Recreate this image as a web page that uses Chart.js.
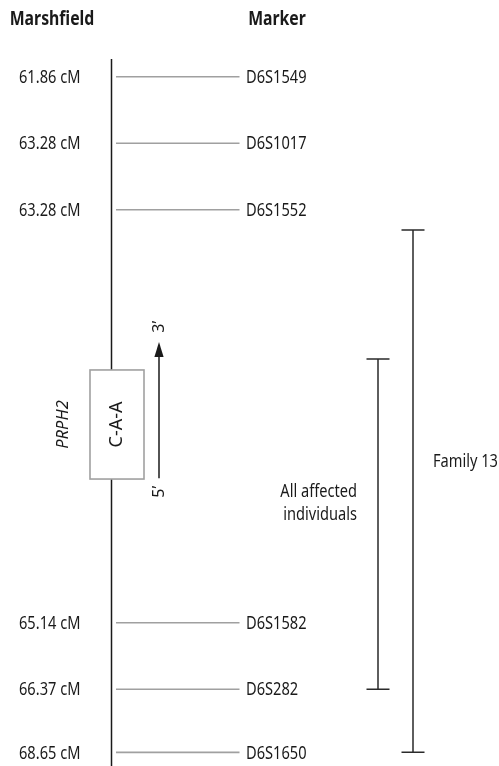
<!DOCTYPE html>
<html>
<head>
<meta charset="utf-8">
<script src="https://cdn.jsdelivr.net/npm/chart.js@4.4.1/dist/chart.umd.min.js"></script>
<style>
  html, body { margin: 0; padding: 0; background: #fff; }
  #wrap { width: 499px; height: 766px; position: relative; }
</style>
</head>
<body>
<div id="wrap"><canvas id="mapChart"></canvas></div>
<script>
// Linkage map around PRPH2 - markers sit on "rows" of the y scale
const markerNames = ["D6S1549", "D6S1017", "D6S1552", "D6S1582", "D6S282", "D6S1650"];
const markerCM = ["61.86 cM", "63.28 cM", "63.28 cM", "65.14 cM", "66.37 cM", "68.65 cM"];
const markerRows = [0, 1, 2, 8.21, 9.21, 10.16];

const geneName = "PRPH2";
const geneAllele = "C-A-A";
const geneRows = [4.41, 6.05];      // top / bottom of the haplotype box
const strandRows = [6.04, 3.99];    // 5' end, 3' tip
const strandEnds = ["5\u2019", "3\u2019"];

const bracketLabels = [["All affected", "individuals"], ["Family 13"]];
const bracketRows = [[4.245, 9.21], [2.305, 10.16]];

const headers = ["Marshfield", "Marker"];

// layout (x scale runs in columns 0..499)
const COL = { axis: 111.5, tickA: 116, tickB: 239.5, cm: 19, marker: 246,
              boxL: 90, boxR: 144, strand: 159, brackets: [378, 413], cap: 11.5 };
const SANS = '"Noto Sans", "Open Sans", sans-serif';
const SQUEEZE = 0.79;   // the figure uses a condensed face
const DARK = "#1a1a1a";
const GREY = "#a0a0a0";

const datasets = [];

// main chromosome line
datasets.push({
  data: [{ x: COL.axis, y: -0.266 }, { x: COL.axis, y: 10.5 }],
  borderColor: DARK, borderWidth: 1.5, pointRadius: 0
});

// marker ticks
markerRows.forEach(r => {
  datasets.push({
    data: [{ x: COL.tickA, y: r }, { x: COL.tickB, y: r }],
    borderColor: GREY, borderWidth: 1.6, pointRadius: 0
  });
});

// brackets with caps
bracketRows.forEach((span, i) => {
  const x = COL.brackets[i], c = COL.cap;
  datasets.push({
    data: [
      { x: x - c, y: span[0] }, { x: x + c, y: span[0] }, { x: x, y: span[0] },
      { x: x, y: span[1] }, { x: x - c, y: span[1] }, { x: x + c, y: span[1] }
    ],
    borderColor: "#2a2a2a", borderWidth: 1.5, pointRadius: 0
  });
});

// strand arrow shaft 5' -> 3' (head drawn below)
datasets.push({
  data: [{ x: COL.strand, y: strandRows[0] }, { x: COL.strand, y: strandRows[1] + 0.15 }],
  borderColor: DARK, borderWidth: 1.5, pointRadius: 0
});

const labelsPlugin = {
  id: "mapLabels",
  afterDatasetsDraw(chart) {
    const { ctx, scales: { x, y } } = chart;
    const px = v => x.getPixelForValue(v);
    const py = v => y.getPixelForValue(v);
    ctx.save();

    // gene box covers the chromosome line
    const bx = px(COL.boxL), bw = px(COL.boxR) - bx;
    const by = py(geneRows[0]), bh = py(geneRows[1]) - by;
    ctx.fillStyle = "#fff";
    ctx.fillRect(bx, by, bw, bh);
    ctx.strokeStyle = GREY;
    ctx.lineWidth = 1.6;
    ctx.strokeRect(bx, by, bw, bh);

    // arrow head at the 3' tip
    const tx = px(COL.strand), ty = py(strandRows[1]);
    ctx.fillStyle = DARK;
    ctx.beginPath();
    ctx.moveTo(tx, ty);
    ctx.lineTo(tx + 4.6, ty + 15);
    ctx.lineTo(tx - 4.6, ty + 15);
    ctx.closePath();
    ctx.fill();

    const rotated = (text, cx, cy, font) => {
      ctx.save();
      ctx.translate(cx, cy);
      ctx.rotate(-Math.PI / 2);
      ctx.font = font;
      ctx.textAlign = "center";
      ctx.textBaseline = "middle";
      ctx.fillText(text, 0, 0);
      ctx.restore();
    };
    const narrow = (text, cx, cy, align, font) => {
      ctx.save();
      ctx.translate(cx, cy);
      ctx.scale(SQUEEZE, 1);
      ctx.font = font;
      ctx.textAlign = align;
      ctx.textBaseline = "middle";
      ctx.fillText(text, 0, 0);
      ctx.restore();
    };

    ctx.fillStyle = DARK;
    const mid = (geneRows[0] + geneRows[1]) / 2;
    rotated(geneAllele, bx + bw / 2, py(mid), "18px " + SANS);
    rotated(geneName, px(63), py(mid), "italic 16.5px " + SANS);
    rotated(strandEnds[1], tx, py(3.76), "16px " + SANS);
    rotated(strandEnds[0], tx, py(6.24), "16px " + SANS);

    // headers, centred over their columns
    narrow(headers[0], px(52), py(-0.86), "center", "bold 20px " + SANS);
    narrow(headers[1], px(277), py(-0.86), "center", "bold 20px " + SANS);

    // marker labels
    const f = "18.5px " + SANS;
    markerRows.forEach((r, i) => {
      narrow(markerCM[i], px(COL.cm), py(r) + 1, "left", f);
      narrow(markerNames[i], px(COL.marker), py(r) + 1, "left", f);
    });

    // bracket labels
    narrow(bracketLabels[0][0], px(357), py(6.24), "right", f);
    narrow(bracketLabels[0][1], px(357), py(6.59), "right", f);
    narrow(bracketLabels[1][0], px(433), py(5.79), "left", f);
    ctx.restore();
  }
};

new Chart(document.getElementById("mapChart"), {
  type: "scatter",
  data: { datasets },
  options: {
    responsive: true,
    maintainAspectRatio: false,
    animation: false,
    showLine: true,
    layout: { padding: 0, autoPadding: false },
    plugins: { legend: { display: false }, tooltip: { enabled: false } },
    scales: {
      x: { type: "linear", min: 0, max: 499, display: false },
      y: { type: "linear", min: -1.153, max: 10.365, reverse: true, display: false }
    }
  },
  plugins: [labelsPlugin]
});
</script>
</body>
</html>
